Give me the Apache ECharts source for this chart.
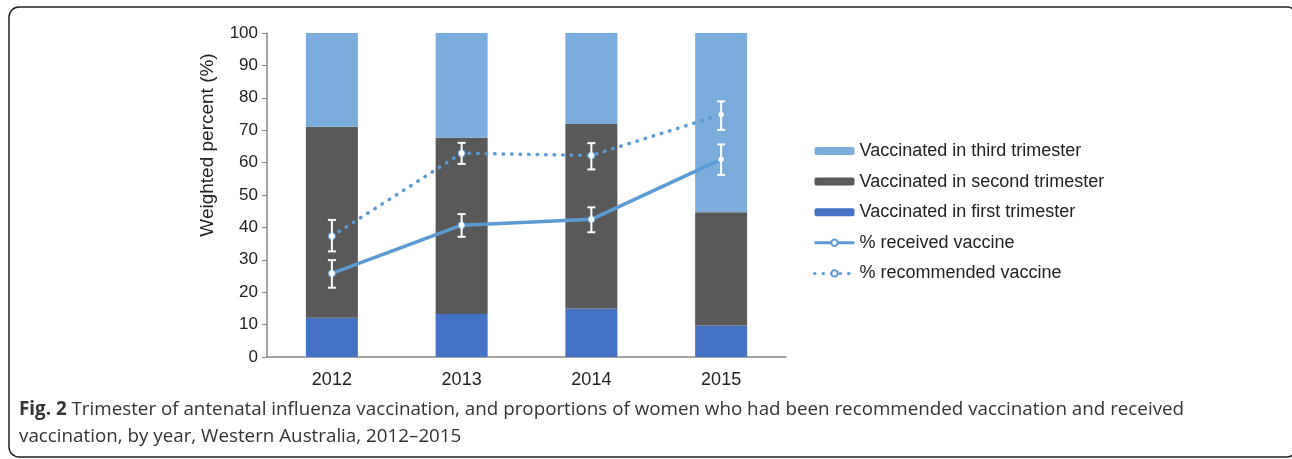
<!DOCTYPE html>
<html>
<head>
<meta charset="utf-8">
<script src="https://cdn.jsdelivr.net/npm/echarts@6/dist/echarts.min.js"></script>
<style>
  html, body { margin: 0; padding: 0; background: #fff; }
  #chart { width: 1292px; height: 459px; }
</style>
</head>
<body>
<div id="chart"></div>
<script>
// data
var years = ['2012', '2013', '2014', '2015']
var firstTri = [12.1, 13.3, 15.0, 9.7]
var secondTri = [59.0, 54.4, 56.9, 35.0]
var thirdTri = [28.9, 32.3, 28.1, 55.3]
var received = [25.8, 40.7, 42.5, 61.0]
var receivedLow = [21.4, 37.1, 38.5, 56.2]
var receivedHigh = [29.9, 44.1, 46.2, 65.6]
var recommended = [37.3, 62.9, 62.2, 74.8]
var recommendedLow = [32.6, 59.6, 57.9, 70.1]
var recommendedHigh = [42.3, 66.1, 66.0, 78.9]
var yTicks = [0, 10, 20, 30, 40, 50, 60, 70, 80, 90, 100]

var lineBlue = '#5b9bd5'
var font = '"Liberation Sans", Arial, sans-serif'

function errData(low, high) {
  return years.map(function (y, i) { return [i, low[i], high[i]] })
}

function renderErr(params, api) {
  var top = api.coord([api.value(0), api.value(2)])
  var bot = api.coord([api.value(0), api.value(1)])
  var w = 4
  var style = { stroke: '#fff', lineWidth: 2 }
  return {
    type: 'group',
    children: [
      { type: 'line', shape: { x1: top[0], y1: top[1], x2: bot[0], y2: bot[1] }, style: style },
      { type: 'line', shape: { x1: top[0] - w, y1: top[1], x2: top[0] + w, y2: top[1] }, style: style },
      { type: 'line', shape: { x1: bot[0] - w, y1: bot[1], x2: bot[0] + w, y2: bot[1] }, style: style }
    ]
  }
}

var chart = echarts.init(document.getElementById('chart'))
chart.setOption({
  animation: false,
  grid: { left: 267, right: 506, top: 33, bottom: 102 },
  legend: {
    orient: 'vertical',
    left: 813,
    top: 141,
    padding: 0,
    itemWidth: 40,
    itemHeight: 8,
    itemGap: 10.6,
    lineStyle: { width: 3 },
    data: ['Vaccinated in third trimester', 'Vaccinated in second trimester', 'Vaccinated in first trimester', '% received vaccine', '% recommended vaccine'],
    textStyle: { fontFamily: font, fontSize: 18, color: '#222', lineHeight: 20 }
  },
  xAxis: {
    type: 'category',
    data: years,
    axisTick: { show: false },
    axisLine: { lineStyle: { color: '#868686', width: 1.5 } },
    axisLabel: { fontFamily: font, fontSize: 18, color: '#222', margin: 14 }
  },
  yAxis: {
    type: 'value',
    min: 0,
    max: 100,
    interval: 10,
    splitLine: { show: false },
    axisLine: { show: true, lineStyle: { color: '#868686', width: 1.5 } },
    axisTick: { show: true, length: 5, lineStyle: { color: '#868686' } },
    axisLabel: {
      fontFamily: font, fontSize: 17, color: '#222', margin: 9,
      formatter: function (v) { return yTicks.indexOf(v) >= 0 ? String(v) : '' }
    }
  },
  series: [
    {
      name: 'Vaccinated in first trimester', type: 'bar', stack: 'tri', barWidth: 52,
      itemStyle: { color: '#4472c4' }, data: firstTri
    },
    {
      name: 'Vaccinated in second trimester', type: 'bar', stack: 'tri', barWidth: 52,
      itemStyle: { color: '#595959' }, data: secondTri
    },
    {
      name: 'Vaccinated in third trimester', type: 'bar', stack: 'tri', barWidth: 52,
      itemStyle: { color: '#7aaddc' }, data: thirdTri
    },
    {
      name: '% received vaccine', type: 'line', z: 3,
      symbol: 'circle', symbolSize: 7,
      lineStyle: { color: lineBlue, width: 3.5 },
      itemStyle: { color: '#fff', borderColor: lineBlue, borderWidth: 1 },
      data: received
    },
    {
      name: '% recommended vaccine', type: 'line', z: 3,
      symbol: 'circle', symbolSize: 7,
      lineStyle: { color: lineBlue, width: 3.5, type: [0.5, 8], cap: 'round' },
      itemStyle: { color: '#fff', borderColor: lineBlue, borderWidth: 1 },
      data: recommended
    },
    {
      type: 'custom', z: 5, renderItem: renderErr, data: errData(receivedLow, receivedHigh)
    },
    {
      type: 'custom', z: 5, renderItem: renderErr, data: errData(recommendedLow, recommendedHigh)
    }
  ],
  graphic: [
    {
      type: 'rect', silent: true,
      shape: { x: 9, y: 7, width: 1288, height: 450, r: 10 },
      style: { fill: 'none', stroke: '#222', lineWidth: 1.5 }
    },
    {
      // y axis title sits above the plot centre in the original
      type: 'text', x: 208, y: 145, rotation: Math.PI / 2,
      style: {
        text: 'Weighted percent (%)', fontFamily: font, fontSize: 19, fill: '#222',
        align: 'center', verticalAlign: 'middle'
      }
    },
    {
      type: 'text', left: 19, top: 396,
      style: {
        text: '{b|Fig. 2} Trimester of antenatal influenza vaccination, and proportions of women who had been recommended vaccination and received\nvaccination, by year, Western Australia, 2012–2015',
        fontFamily: 'Open Sans', fontSize: 18.8, fill: '#333', lineHeight: 27,
        rich: { b: { fontFamily: 'Open Sans', fontSize: 18.8, fontWeight: 'bold', fill: '#333' } }
      }
    }
  ]
})
</script>
</body>
</html>
